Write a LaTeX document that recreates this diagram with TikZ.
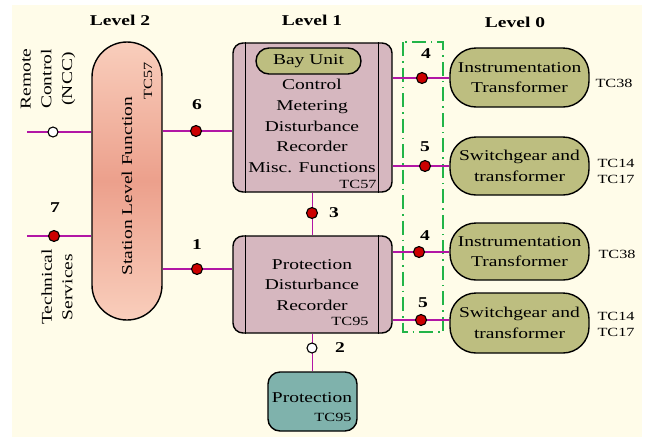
\documentclass[tikz,border=0pt]{standalone}
\usepackage{fontspec}
\setmainfont{Liberation Serif}[FakeStretch=1.3]
\definecolor{cream}{RGB}{255,252,233}
\definecolor{mauve}{RGB}{214,183,191}
\definecolor{olive}{RGB}{189,190,128}
\definecolor{teal2}{RGB}{127,178,172}
\definecolor{salmonlight}{RGB}{249,206,188}
\definecolor{salmondark}{RGB}{236,160,140}
\definecolor{linkc}{RGB}{178,22,165}
\definecolor{dotred}{RGB}{204,0,0}
\definecolor{grouping}{RGB}{34,180,72}
\tikzset{
  txt/.style={font=\fontsize{15}{20.7}\selectfont, align=center, inner sep=0pt},
  tc/.style={font=\fontsize{12.5}{14}\selectfont, inner sep=0pt},
  lvl/.style={font=\fontsize{15}{18}\selectfont\bfseries, inner sep=0pt},
  num/.style={font=\fontsize{15}{18}\selectfont\bfseries, inner sep=0pt},
  boxline/.style={draw=black, line width=1.4pt},
  baybox/.style={boxline, fill=mauve, rounded corners=10pt, inner sep=0pt},
  fieldbox/.style={boxline, fill=olive, rounded corners=26pt, inner sep=0pt, minimum width=139pt},
  link/.style={draw=linkc, line width=1.3pt},
  reddot/.style={circle, draw=black, line width=1.1pt, fill=dotred, minimum size=11pt, inner sep=0pt},
  opendot/.style={circle, draw=black, line width=1.1pt, fill=white, minimum size=10pt, inner sep=0pt},
  groupbox/.style={draw=grouping, line width=1.4pt, dash pattern=on 14pt off 5pt on 1.5pt off 5pt},
}
\begin{document}
\begin{tikzpicture}[x=1pt,y=-1pt]
\useasboundingbox (0,0) rectangle (645,437);
\fill[white] (0,0) rectangle (645,437);
\fill[cream] (12,5) rectangle (642,437);

% level headings
\node[lvl] at (120,20) {Level 2};
\node[lvl] at (312,20) {Level 1};
\node[lvl] at (515,22) {Level 0};

% Level 2: station level function
\node[boxline, rounded corners=35pt, minimum width=70pt, minimum height=278pt,
      top color=salmonlight, bottom color=salmonlight, middle color=salmondark] (slf) at (127,181) {};
\node[txt, rotate=90] at (127,186) {Station Level Function};
\node[tc, rotate=90] at (148,81) {TC57};

% Level 1: bay unit
\node[baybox, minimum width=159pt, minimum height=149pt] (bay) at (312.5,117.5) {};
\draw[line width=1.4pt] ([xshift=13pt]bay.north west) -- ([xshift=13pt]bay.south west);
\draw[line width=1.4pt] ([xshift=-14pt]bay.north east) -- ([xshift=-14pt]bay.south east);
\node[boxline, fill=olive, rounded corners=13pt, minimum width=105pt, minimum height=26pt, txt] (bayunit) at (308.5,61) {Bay Unit};
\node[txt] (baytext) at (312,126) {Control\\Metering\\Disturbance\\Recorder\\Misc. Functions};
\node[tc] at (358,184) {TC57};

% Level 1: protection unit
\node[baybox, minimum width=159pt, minimum height=97pt] (prot) at (312.5,284.5) {};
\draw[line width=1.4pt] ([xshift=13pt]prot.north west) -- ([xshift=13pt]prot.south west);
\draw[line width=1.4pt] ([xshift=-14pt]prot.north east) -- ([xshift=-14pt]prot.south east);
\node[txt] (prottext) at (312,285) {Protection\\Disturbance\\Recorder};
\node[tc] at (350,321) {TC95};

% protection device
\node[boxline, fill=teal2, rounded corners=12pt, minimum width=89pt, minimum height=59pt] (pdev) at (312.5,401.5) {};
\node[txt] at (312,398) {Protection};
\node[tc] at (333,417) {TC95};

% Level 0: process devices
\node[fieldbox, minimum height=59pt, txt] (inst1) at (519.5,77.5) {Instrumentation\\Transformer};
\node[fieldbox, minimum height=58pt, txt] (swg1) at (519.5,166) {Switchgear and\\transformer};
\node[fieldbox, minimum height=57pt, txt] (inst2) at (519.5,251.5) {Instrumentation\\Transformer};
\node[fieldbox, minimum height=60pt, txt] (swg2) at (519.5,323) {Switchgear and\\transformer};
\node[tc] at (614,83) {TC38};
\node[tc, align=left, font=\fontsize{12.5}{16}\selectfont] at (616,171) {TC14\\TC17};
\node[tc] at (617,254) {TC38};
\node[tc, align=left, font=\fontsize{12.5}{16}\selectfont] at (616,324) {TC14\\TC17};

% grouping of the process links
\draw[groupbox] (403,42) rectangle (443,332);

% external interfaces
\node[txt, rotate=90] at (48,79) {Remote\\Control\\(NCC)};
\node[txt, rotate=90] at (57,287) {Technical\\Services};

% connectors
\coordinate (rc) at (27,132);
\coordinate (ts) at (27,236);
\draw[link] (rc) -- (slf.west |- rc);
\draw[link] (ts) -- (slf.west |- ts);
\coordinate (y6) at (0,131);
\coordinate (y1) at (0,269);
\draw[link] (slf.east |- y6) -- (bay.west |- y6);
\draw[link] (slf.east |- y1) -- (prot.west |- y1);
\draw[link] (bay.south) -- (prot.north);
\draw[link] (prot.south) -- (pdev.north);
\coordinate (y4a) at (0,78);
\coordinate (y5a) at (0,166);
\coordinate (y4b) at (0,252);
\coordinate (y5b) at (0,320);
\draw[link] (bay.east |- y4a) -- (inst1.west |- y4a);
\draw[link] (bay.east |- y5a) -- (swg1.west |- y5a);
\draw[link] (prot.east |- y4b) -- (inst2.west |- y4b);
\draw[link] (prot.east |- y5b) -- (swg2.west |- y5b);

% interface points
\node[opendot] (d0) at (53,132) {};
\node[reddot] (d7) at (54,236) {};
\node[reddot] (d6) at (196,131) {};
\node[reddot] (d1) at (197,269) {};
\node[reddot] (d3) at (312,213) {};
\node[opendot] (d2) at (312,348) {};
\node[reddot] (d4a) at (422,78) {};
\node[reddot] (d5a) at (425,166) {};
\node[reddot] (d4b) at (419,252) {};
\node[reddot] (d5b) at (421,320) {};

% interface numbers
\node[num] at (55,208) {7};
\node[num] at (197,105) {6};
\node[num] at (197,245) {1};
\node[num] at (334,213) {3};
\node[num] at (340,348) {2};
\node[num] at (426,54) {4};
\node[num] at (425,147) {5};
\node[num] at (425,236) {4};
\node[num] at (423,303) {5};
\end{tikzpicture}
\end{document}
